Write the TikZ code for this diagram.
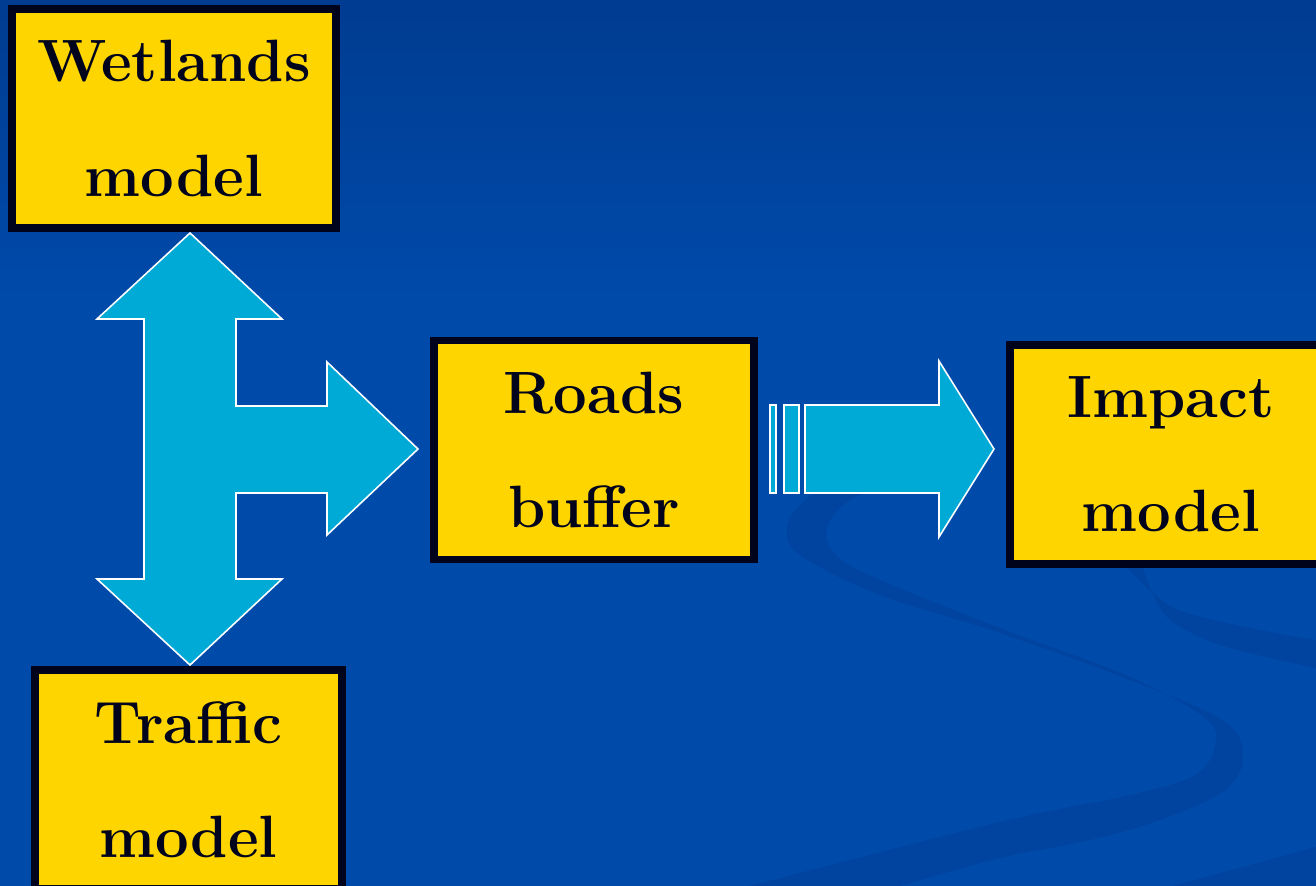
\documentclass[tikz,border=0pt]{standalone}
\usepackage{tikz}
\definecolor{bgtop}{RGB}{0,60,145}
\definecolor{bgblue}{RGB}{0,74,170}
\definecolor{swoosh}{RGB}{0,68,160}
\definecolor{boxfill}{RGB}{255,213,0}
\definecolor{boxline}{RGB}{0,3,28}
\definecolor{arrowfill}{RGB}{0,170,214}

\begin{document}
\begin{tikzpicture}[
    x=0.02cm, y=-0.02cm,
    model/.style={rectangle, draw=boxline, line width=4.5pt, fill=boxfill, text=boxline, minimum height=4.38cm, inner sep=0pt, align=center, font=\fontsize{34}{65}\selectfont\bfseries},
    blockarrow/.style={fill=arrowfill, draw=white, line width=0.9pt, line join=miter}
]
\useasboundingbox (0,0) rectangle (1316,886);
\clip (0,0) rectangle (1316,886);
% Background
\shade[top color=bgtop, bottom color=bgblue] (0,0) rectangle (1316,300);
\fill[bgblue] (0,299) rectangle (1316,886);
\fill[swoosh] plot[smooth, tension=0.6] coordinates {(900,886) (1000,858) (1090,840) (1160,820) (1225,790) (1243,755) (1222,720) (1130,680) (1000,633) (880,595) (800,555) (787,530) (797,508) (830,480)}
    -- plot[smooth, tension=0.6] coordinates {(900,482) (850,500) (827,528) (836,555) (880,580) (1000,628) (1130,677) (1205,718) (1215,745) (1195,775) (1130,795) (1000,822) (750,886)} -- cycle;
\fill[swoosh] plot[smooth] coordinates {(1120,560) (1170,606) (1240,626) (1316,640)}
    -- plot[smooth] coordinates {(1316,668) (1220,645) (1165,615) (1140,560)} -- cycle;
\fill[swoosh] (1173,886) -- (1316,847) -- (1316,886) -- cycle;
% Nodes
\node[model, minimum width=6.48cm] (wetlands) at (174,118.5) {Wetlands\\model};
\node[model, minimum width=6.40cm] (roads) at (594,450) {Roads\\buffer};
\node[model, minimum width=6.44cm] (impact) at (1171,454.5) {Impact\\model};
\node[model, minimum width=6.14cm] (traffic) at (188.5,779.5) {Traffic\\model};
% Arrows
\draw[blockarrow] (190,233) -- (282,319) -- (236,319) -- (236,406) -- (327,406) -- (327,362) -- (418,449)
    -- (327,535) -- (327,493) -- (236,493) -- (236,579) -- (282,579) -- (190,665) -- (97,579)
    -- (144,579) -- (144,319) -- (97,319) -- cycle;
\draw[blockarrow] (770,405) rectangle (776,493);
\draw[blockarrow] (784,405) rectangle (799,493);
\draw[blockarrow] (805,405) -- (939,405) -- (939,361) -- (994,449) -- (939,537) -- (939,493) -- (805,493) -- cycle;
\end{tikzpicture}
\end{document}
